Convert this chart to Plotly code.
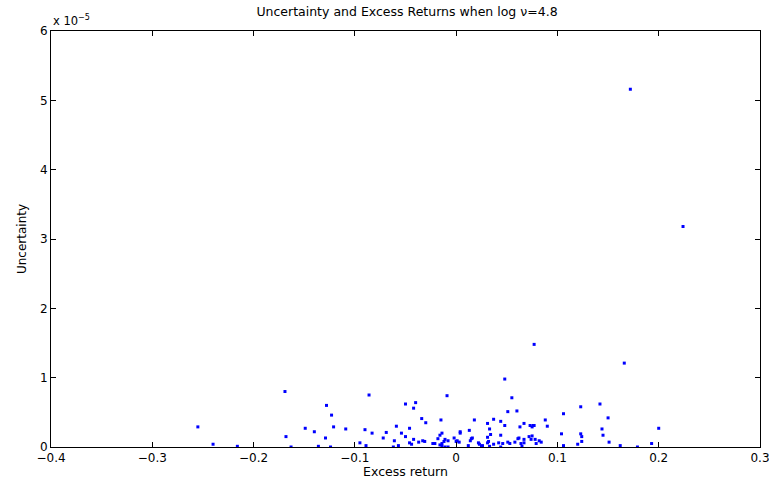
import plotly.graph_objects as go

# Excess return (x) and uncertainty in units of 1e-5 (y)
excess_return = [
    0.172, 0.224, 0.077, 0.166, 0.048,
    -0.255, -0.240, -0.216, -0.169, -0.168, -0.163, -0.149, -0.140, -0.128, -0.123,
    -0.121, -0.129, -0.136, -0.124, -0.109,
    -0.086, -0.095, -0.090, -0.089, -0.083, -0.072, -0.069, -0.061, -0.062, -0.059,
    -0.057, -0.054, -0.050, -0.050, -0.046, -0.046, -0.044, -0.042, -0.040, -0.042,
    -0.037, -0.034, -0.033, -0.031, -0.030, -0.023, -0.021, -0.018, -0.016, -0.015,
    -0.014, -0.016, -0.014, -0.014, -0.012, -0.011, -0.009, -0.008, -0.011, -0.008,
    -0.002, 0.000, 0.001, 0.003, 0.004, 0.004, 0.012, 0.013, 0.014, 0.015,
    0.016, 0.018, 0.022, 0.023, 0.025, 0.026, 0.031, 0.031, 0.033, 0.034,
    0.031, 0.032, 0.033, 0.037, 0.037, 0.042, 0.044, 0.044, 0.044, 0.046,
    0.048, 0.051, 0.051, 0.053, 0.055, 0.058, 0.060, 0.061, 0.062, 0.063,
    0.064, 0.065, 0.067, 0.067, 0.067, 0.072, 0.073, 0.075, 0.075, 0.076,
    0.077, 0.074, 0.078, 0.079, 0.082,
    0.084, 0.088, 0.090, 0.104, 0.106, 0.106, 0.120, 0.123, 0.123, 0.124,
    0.124, 0.142, 0.144, 0.145, 0.150, 0.151, 0.162, 0.179, 0.193, 0.200,
]
uncertainty_e5 = [
    5.16, 3.18, 1.48, 1.21, 0.98,
    0.29, 0.04, 0.01, 0.80, 0.15, 0.00, 0.27, 0.22, 0.60, 0.46,
    0.29, 0.13, 0.01, 0.00, 0.26,
    0.75, 0.06, 0.25, 0.02, 0.20, 0.13, 0.21, 0.09, 0.00, 0.30,
    0.02, 0.20, 0.62, 0.15, 0.27, 0.06, 0.04, 0.56, 0.64, 0.11,
    0.07, 0.41, 0.09, 0.08, 0.35, 0.05, 0.05, 0.12, 0.17, 0.39,
    0.20, 0.03, 0.05, 0.01, 0.08, 0.11, 0.74, 0.09, 0.00, 0.00,
    0.13, 0.08, 0.09, 0.07, 0.22, 0.20, 0.02, 0.24, 0.09, 0.12,
    0.13, 0.39, 0.06, 0.04, 0.01, 0.02, 0.14, 0.34, 0.26, 0.18,
    0.06, 0.08, 0.01, 0.40, 0.04, 0.06, 0.37, 0.00, 0.17, 0.05,
    0.31, 0.51, 0.07, 0.05, 0.71, 0.07, 0.52, 0.12, 0.13, 0.29,
    0.05, 0.01, 0.34, 0.11, 0.06, 0.15, 0.31, 0.16, 0.29, 0.31,
    0.31, 0.11, 0.11, 0.05, 0.09,
    0.07, 0.39, 0.30, 0.19, 0.48, 0.02, 0.04, 0.19, 0.58, 0.15,
    0.08, 0.62, 0.26, 0.17, 0.42, 0.07, 0.02, 0.00, 0.05, 0.27,
]

x_ticks = [-0.4, -0.3, -0.2, -0.1, 0, 0.1, 0.2, 0.3]
x_ticktext = ["\u22120.4", "\u22120.3", "\u22120.2", "\u22120.1", "0", "0.1", "0.2", "0.3"]
y_ticks = [0, 1, 2, 3, 4, 5, 6]
y_ticktext = ["0", "1", "2", "3", "4", "5", "6"]

font_family = "DejaVu Sans, Liberation Sans, Arial, sans-serif"

fig = go.Figure()
fig.add_trace(go.Scatter(
    x=excess_return, y=uncertainty_e5, mode="markers",
    marker=dict(color="#0000ff", size=3, symbol="square", line=dict(width=0)),
    showlegend=False, hoverinfo="x+y",
))

axis_common = dict(
    showline=True, linecolor="black", linewidth=1, mirror="ticks",
    ticks="inside", ticklen=5, tickcolor="black", tickwidth=1,
    showgrid=False, zeroline=False, automargin=False,
    ticklabeloverflow="allow",
    tickfont=dict(family=font_family, size=12, color="black"),
)

fig.update_layout(
    width=769, height=479,
    margin=dict(l=51, r=9, t=31, b=32),
    paper_bgcolor="white", plot_bgcolor="white",
    font=dict(family=font_family, color="black"),
    title=dict(
        text="Uncertainty and Excess Returns when log \u03bd=4.8",
        x=407 / 769, xanchor="center", y=1 - 12 / 479, yanchor="middle",
        font=dict(family=font_family, size=12.5, color="black"),
        automargin=False,
    ),
    xaxis=dict(
        range=[-0.4, 0.3], tickvals=x_ticks, ticktext=x_ticktext,
        ticklabelstandoff=0,
        title=dict(text="Excess return", standoff=3,
                   font=dict(family=font_family, size=12.5, color="black")),
        **axis_common,
    ),
    yaxis=dict(
        range=[0, 6], tickvals=y_ticks, ticktext=y_ticktext,
        title=dict(text="Uncertainty", standoff=10,
                   font=dict(family=font_family, size=12, color="black")),
        **axis_common,
    ),
    annotations=[dict(
        text="x 10<sup>\u22125</sup>", xref="paper", yref="paper",
        x=0, y=1, xanchor="left", yanchor="bottom", yshift=1, xshift=0,
        showarrow=False, font=dict(family=font_family, size=11.5, color="black"),
    )],
)

fig.write_html("out.html")
